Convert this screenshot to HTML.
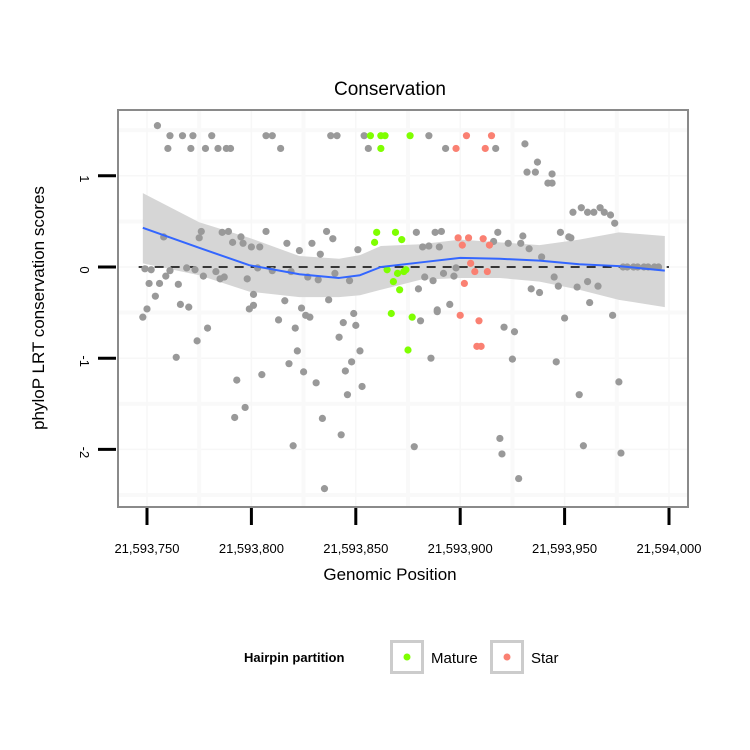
<!DOCTYPE html>
<html><head><meta charset="utf-8"><style>
html,body{margin:0;padding:0;background:#fff}
svg{display:block;font-family:"Liberation Sans",Arial,sans-serif}
</style></head><body>
<svg id="chart" width="750" height="750" viewBox="0 0 750 750">
<text x="390" y="95" text-anchor="middle" font-size="19">Conservation</text>
<rect x="118" y="110" width="570" height="397" fill="#fff" stroke="#8a8a8a" stroke-width="2"/>
<g id="grid"></g>
<g id="band"></g>
<line x1="118" x2="688" id="zero" stroke="#000" stroke-width="1.6" stroke-dasharray="9,7"/>
<g id="pts"></g>
<g id="fit"></g>
<g id="axes"></g>
<text x="390" y="580" text-anchor="middle" font-size="17">Genomic Position</text>
<text transform="translate(44,308) rotate(-90)" text-anchor="middle" font-size="17">phyloP LRT conservation scores</text>
<g>
<text x="244" y="662" font-size="13" font-weight="bold">Hairpin partition</text>
<g>
<rect x="391.5" y="641.5" width="31" height="31" fill="#fff" stroke="#cccccc" stroke-width="3"/>
<circle cx="407" cy="657" r="3.5" fill="#7FFF00"/>
<text x="431" y="663" font-size="15">Mature</text></g>
<g>
<rect x="491.5" y="641.5" width="31" height="31" fill="#fff" stroke="#cccccc" stroke-width="3"/>
<circle cx="507" cy="657" r="3.5" fill="#FA8072"/>
<text x="531" y="663" font-size="15">Star</text></g>
</g>
</svg>
<script>
const BASE = 21593750;
const xTicks = [21593750, 21593800, 21593850, 21593900, 21593950, 21594000];
const xTickLabels = ["21,593,750","21,593,800","21,593,850","21,593,900","21,593,950","21,594,000"];
const yTicks = [1, 0, -1, -2];
const yTickLabels = ["1","0","-1","-2"];
// gray points: offset from 21,593,750 and score
const grayX = [5,11,17,22,31,57,60,88,91,104,135,10,21,28,34,38,40,64,106,143,167,181,187,182,186,194,192,194,204,208,211,214,217,219,222,224,
129,138,141,168,180,166,132,135,140,173,179,183,189,198,202,203,133,137,142,147,148,130,145,139,195,197,184,188,206,211,216,212,228,230,233,235,238,240,243,245,
8,26,25,36,39,45,41,46,50,54,57,67,73,79,83,86,89,101,-1,2,11,19,23,27,33,9,1,6,15,35,37,48,53,60,69,77,82,90,97,4,16,20,51,66,74,87,0,51,
-2,49,76,78,63,71,29,24,14,99,94,100,92,102,98,95,103,96,72,68,75,81,55,43,47,42,84,93,70,85,
139,131,200,223,171,176,136,175,196,226,207,128,169,170,209,227,178];
const grayY = [1.55,1.44,1.44,1.44,1.44,1.44,1.44,1.44,1.44,1.44,1.44,1.30,1.30,1.30,1.30,1.30,1.30,1.30,1.30,1.30,1.30,1.35,1.15,1.04,1.04,1.02,0.92,0.92,0.60,0.65,0.60,0.60,0.65,0.60,0.57,0.48,
0.38,0.38,0.39,0.38,0.34,0.28,0.22,0.23,0.22,0.26,0.26,0.20,0.11,0.38,0.33,0.32,-0.11,-0.15,-0.07,-0.10,-0.01,-0.24,-0.41,-0.47,-0.11,-0.21,-0.24,-0.28,-0.22,-0.16,-0.21,-0.39,0,0,0,0,0,0,0,0,
0.33,0.39,0.32,0.38,0.39,0.33,0.27,0.26,0.22,0.22,0.39,0.26,0.18,0.26,0.14,0.39,0.31,0.19,-0.02,-0.03,-0.04,-0.01,-0.03,-0.10,-0.05,-0.10,-0.18,-0.18,-0.19,-0.13,-0.11,-0.13,-0.01,-0.04,-0.05,-0.11,-0.14,-0.07,-0.15,-0.32,-0.41,-0.44,-0.30,-0.37,-0.45,-0.36,-0.46,-0.42,
-0.55,-0.46,-0.53,-0.55,-0.58,-0.67,-0.67,-0.81,-0.99,-0.51,-0.61,-0.64,-0.77,-0.92,-1.04,-1.14,-1.31,-1.40,-0.92,-1.06,-1.15,-1.27,-1.18,-1.24,-1.54,-1.65,-1.66,-1.84,-1.96,-2.43,
-0.49,-0.59,-0.56,-0.53,-0.66,-0.71,-1.00,-1.01,-1.04,-1.26,-1.40,-1.97,-1.88,-2.05,-1.96,-2.04,-2.32];
const matureX = [107,112,114,126,112,110,109,119,122,115,120,124,118,121,123,117,127,125];
const matureY = [1.44,1.44,1.44,1.44,1.30,0.38,0.27,0.38,0.30,-0.03,-0.07,-0.03,-0.16,-0.25,-0.05,-0.51,-0.55,-0.91];
const starX = [153,165,148,162,149,154,161,151,164,155,157,163,152,150,159,158,160];
const starY = [1.44,1.44,1.30,1.30,0.32,0.32,0.31,0.24,0.24,0.04,-0.05,-0.05,-0.18,-0.53,-0.59,-0.87,-0.87];
const fitX = [-2,25,49,73,92,102,112,131,150,169,188,207,226,248];
const fitY = [0.43,0.21,0.02,-0.08,-0.12,-0.09,0,0.05,0.10,0.09,0.07,0.03,0.01,-0.04];
const fitUpper = [0.81,0.49,0.32,0.12,0.09,0.13,0.23,0.25,0.30,0.27,0.24,0.30,0.38,0.34];
const fitLower = [0.04,-0.09,-0.27,-0.33,-0.33,-0.31,-0.25,-0.14,-0.12,-0.12,-0.16,-0.25,-0.36,-0.44];

const NS = "http://www.w3.org/2000/svg";
function sx(v){ return 147 + (v - BASE) * 2.088; }
function sxo(o){ return sx(BASE + o); }
function sy(v){ return 267 - v * 91.2; }
function mk(tag, attrs, parent){
  const e = document.createElementNS(NS, tag);
  for (const k in attrs) e.setAttribute(k, attrs[k]);
  parent.appendChild(e); return e;
}
const grid = document.getElementById('grid');
[-2.5,-1.5,-0.5,0.5,1.5].forEach(v=>{
  const l = mk('line',{x1:119,x2:687,y1:sy(v),y2:sy(v),stroke:'#f9f9f9','stroke-width':4},grid);
  
  
});
yTicks.forEach(v=>{
  const l = mk('line',{x1:119,x2:687,y1:sy(v),y2:sy(v),stroke:'#f7f7f7','stroke-width':1.5},grid);
  
  
});
[21593775,21593825,21593875,21593925,21593975].forEach(v=>{
  const l = mk('line',{x1:sx(v),x2:sx(v),y1:111,y2:506,stroke:'#f9f9f9','stroke-width':4},grid);
  
  
});
xTicks.forEach(v=>{
  const l = mk('line',{x1:sx(v),x2:sx(v),y1:111,y2:506,stroke:'#f7f7f7','stroke-width':1.5},grid);
  
  
});
// band
let d = '';
fitX.forEach((x,i)=>{ d += (i?'L':'M') + sxo(x) + ',' + sy(fitUpper[i]); });
for (let i = fitX.length-1; i>=0; i--) d += 'L' + sxo(fitX[i]) + ',' + sy(fitLower[i]);
const band = mk('path',{d:d+'Z',fill:'#d6d6d6'},document.getElementById('band'));


const z = document.getElementById('zero');
z.setAttribute('y1', sy(0)); z.setAttribute('y2', sy(0));
z.setAttribute('x1', sxo(-4)); z.setAttribute('x2', sxo(250));
const pts = document.getElementById('pts');
function drawPts(xs, ys, col, name){
  xs.forEach((x,i)=>{
    const c = mk('circle',{cx:sxo(x),cy:sy(ys[i]),r:3.6,fill:col},pts);
    
    
  });
}
drawPts(grayX, grayY, '#999999', 'point-other');
drawPts(matureX, matureY, '#7FFF00', 'point-mature');
drawPts(starX, starY, '#FA8072', 'point-star');
let fd = '';
fitX.forEach((x,i)=>{ fd += (i?'L':'M') + sxo(x) + ',' + sy(fitY[i]); });
const fl = mk('path',{d:fd,fill:'none',stroke:'#3366FF','stroke-width':2,'stroke-linejoin':'round'},document.getElementById('fit'));


const axes = document.getElementById('axes');
xTicks.forEach((v,i)=>{
  const t = mk('line',{x1:sx(v),x2:sx(v),y1:508,y2:525,stroke:'#000','stroke-width':3},axes);
  
  
  const tx = mk('text',{x:sx(v),y:553,'text-anchor':'middle','font-size':13},axes);
  tx.textContent = xTickLabels[i];
  
  
});
yTicks.forEach((v,i)=>{
  const t = mk('line',{x1:98,x2:116,y1:sy(v),y2:sy(v),stroke:'#000','stroke-width':3},axes);
  
  
  const tx = mk('text',{transform:'translate(80,'+(sy(v)+3)+') rotate(90)','text-anchor':'middle','font-size':13},axes);
  tx.textContent = yTickLabels[i];
  
  
});
</script>
</body></html>
